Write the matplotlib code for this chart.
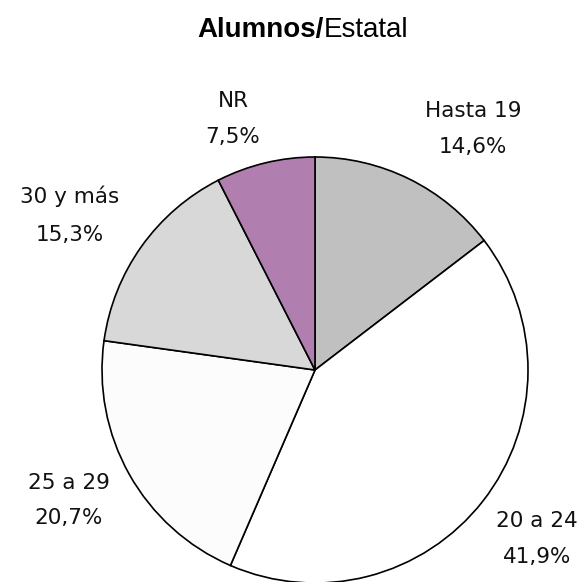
import matplotlib
matplotlib.use("Agg")
import matplotlib.pyplot as plt

# Datos
categorias = ["Hasta 19", "20 a 24", "25 a 29", "30 y más", "NR"]
porcentajes = [14.6, 41.9, 20.7, 15.3, 7.5]
colores = ["#c0c0c0", "#ffffff", "#fcfcfc", "#d8d8d8", "#b07fb0"]

# Posición de las etiquetas: centro x, línea base de cada renglón (píxeles)
pos_etiquetas = [(473, 117, 153), (537, 527, 563), (69, 489, 524),
                 (70, 203, 241), (233, 107, 143)]

W, H = 587, 582
fig = plt.figure(figsize=(W / 100, H / 100), dpi=100)

# Eje para la torta
cx, cy, r = 315, 370, 213
ax = fig.add_axes([(cx - r) / W, (H - cy - r) / H, 2 * r / W, 2 * r / H])
ax.pie(porcentajes, colors=colores, startangle=90, counterclock=False,
       wedgeprops={"edgecolor": "black", "linewidth": 1.2}, radius=1)
ax.set_xlim(-1, 1)
ax.set_ylim(-1, 1)
ax.set_aspect("equal")
ax.axis("off")

# Etiquetas
for cat, val, (px, y1, y2) in zip(categorias, porcentajes, pos_etiquetas):
    fig.text(px / W, 1 - y1 / H, cat, ha="center", va="baseline",
             fontsize=15.5, family="DejaVu Sans", color="#111111")
    fig.text(px / W, 1 - y2 / H, f"{val:.1f}%".replace(".", ","), ha="center",
             va="baseline", fontsize=15.5, family="DejaVu Sans", color="#111111")

# Título: "Alumnos/" en negrita, "Estatal" normal
t1 = fig.text(0, 1 - 37 / H, "Alumnos/", ha="left", va="baseline",
              fontsize=20, fontweight="bold", family="Liberation Sans")
t2 = fig.text(0, 1 - 37 / H, "Estatal", ha="left", va="baseline",
              fontsize=20, family="Liberation Sans")
fig.canvas.draw()
rend = fig.canvas.get_renderer()
w1 = t1.get_window_extent(rend).width
w2 = t2.get_window_extent(rend).width
x0 = 303 - (w1 + w2) / 2
t1.set_x(x0 / W)
t2.set_x((x0 + w1) / W)

fig.savefig("out.png", dpi=100)
